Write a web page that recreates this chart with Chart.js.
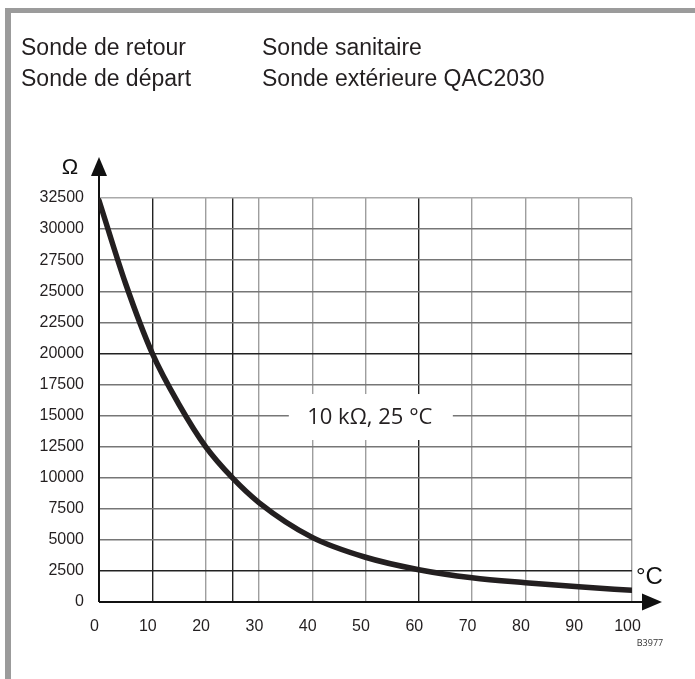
<!DOCTYPE html>
<html>
<head>
<meta charset="utf-8">
<script src="https://cdn.jsdelivr.net/npm/chart.js@4/dist/chart.umd.min.js"></script>
<style>
  html, body { margin: 0; padding: 0; background: #fff; }
  #wrap { width: 695px; height: 679px; position: relative; }
</style>
</head>
<body>
<div id="wrap"><canvas id="c" width="695" height="679"></canvas></div>
<script>
// NTC sensor characteristic: resistance (Ω) versus temperature (°C)
const temperatures = [0, 5, 10, 15, 20, 25, 30, 40, 50, 60, 70, 80, 90, 100];
const resistances  = [32300, 25600, 20000, 15900, 12500, 10000, 8000, 5200, 3600, 2600, 1950, 1550, 1220, 940];

// Axis ticks
const xTicks = [0, 10, 20, 25, 30, 40, 50, 60, 70, 80, 90, 100];
const xLabeled = [0, 10, 20, 30, 40, 50, 60, 70, 80, 90, 100];
const yTicks = [0, 2500, 5000, 7500, 10000, 12500, 15000, 17500, 20000, 22500, 25000, 27500, 30000, 32500];

// Heavier reference lines
const xStrong = [10, 25, 60];
const yStrong = [2500, 20000];

const headerLeft  = ['Sonde de retour', 'Sonde de départ'];
const headerRight = ['Sonde sanitaire', 'Sonde extérieure QAC2030'];
const curveLabel  = '10 kΩ, 25 °C';

const TXT = '#231f20';

const decorations = {
  id: 'decorations',
  beforeDraw(chart) {
    const ctx = chart.ctx;
    ctx.save();
    ctx.fillStyle = '#fff';
    ctx.fillRect(0, 0, chart.width, chart.height);
    // frame (top and left)
    ctx.fillStyle = '#9b9b9b';
    ctx.fillRect(5, 8, chart.width - 5, 5);
    ctx.fillRect(5, 8, 6, chart.height - 8);
    // header
    ctx.fillStyle = TXT;
    ctx.font = '23px "Liberation Sans", Arial, sans-serif';
    ctx.textBaseline = 'alphabetic';
    ctx.textAlign = 'left';
    ctx.fillText(headerLeft[0], 21, 55);
    ctx.fillText(headerLeft[1], 21, 86);
    ctx.fillText(headerRight[0], 262, 55);
    ctx.fillText(headerRight[1], 262, 86);
    ctx.restore();
  },
  beforeDatasetsDraw(chart) {
    const ctx = chart.ctx;
    const xs = chart.scales.x, ys = chart.scales.y;
    const x0 = xs.getPixelForValue(0);
    const y0 = ys.getPixelForValue(0);
    const top = ys.getPixelForValue(32500);
    ctx.save();
    // label box interrupting the grid
    const cx = xs.getPixelForValue(51);
    const cy = ys.getPixelForValue(14800);
    ctx.fillStyle = '#fff';
    ctx.fillRect(cx - 82, cy - 24, 164, 46);
    ctx.fillStyle = TXT;
    ctx.font = '22px "Open Sans", "Noto Sans", sans-serif';
    ctx.textAlign = 'center';
    ctx.textBaseline = 'middle';
    ctx.fillText(curveLabel, cx - 1, cy);

    // axes with arrows
    ctx.strokeStyle = '#111';
    ctx.fillStyle = '#111';
    ctx.lineWidth = 2;
    ctx.beginPath();
    ctx.moveTo(x0, y0);
    ctx.lineTo(x0, top - 28);
    ctx.moveTo(x0, y0);
    ctx.lineTo(xs.right + 15, y0);
    ctx.stroke();
    ctx.beginPath();
    ctx.moveTo(x0, top - 41);
    ctx.lineTo(x0 - 8, top - 22);
    ctx.lineTo(x0 + 8, top - 22);
    ctx.closePath();
    ctx.fill();
    ctx.beginPath();
    ctx.moveTo(xs.right + 30, y0);
    ctx.lineTo(xs.right + 10, y0 - 8.5);
    ctx.lineTo(xs.right + 10, y0 + 8.5);
    ctx.closePath();
    ctx.fill();

    // axis units
    ctx.font = '22px "Liberation Sans", Arial, sans-serif';
    ctx.textAlign = 'center';
    ctx.textBaseline = 'middle';
    ctx.fillText('Ω', 70, top - 30);
    ctx.font = '24px "Liberation Sans", Arial, sans-serif';
    ctx.textAlign = 'left';
    ctx.fillText('°C', xs.right + 4, y0 - 25);

    // drawing reference
    ctx.font = '9px "Open Sans", "Noto Sans", sans-serif';
    ctx.textAlign = 'center';
    ctx.fillStyle = '#333';
    ctx.fillText('B3977', 650, 643);
    ctx.restore();
  }
};

new Chart(document.getElementById('c'), {
  type: 'line',
  data: {
    datasets: [{
      data: temperatures.map((t, i) => ({ x: t, y: resistances[i] })),
      borderColor: '#231f20',
      borderWidth: 5.5,
      borderCapStyle: 'round',
      borderJoinStyle: 'round',
      pointRadius: 0,
      cubicInterpolationMode: 'monotone',
      fill: false
    }]
  },
  options: {
    responsive: false,
    animation: false,
    events: [],
    layout: { padding: { left: 0, top: 198, right: 63, bottom: 0 } },
    plugins: { legend: { display: false }, tooltip: { enabled: false } },
    scales: {
      x: {
        type: 'linear',
        min: 0, max: 100,
        afterFit(scale) { scale.height = 77; },
        afterBuildTicks(scale) { scale.ticks = xTicks.map(v => ({ value: v })); },
        border: { display: false },
        grid: {
          drawTicks: false,
          lineWidth: 1.4,
          color: ctx => {
            const v = ctx.tick.value;
            if (v === 0) return 'rgba(0,0,0,0)';
            if (xStrong.includes(v)) return '#222';
            return '#9e9e9e';
          }
        },
        ticks: {
          autoSkip: false,
          maxRotation: 0,
          padding: 15,
          labelOffset: -4.5,
          color: TXT,
          font: { family: '"Liberation Sans", Arial, sans-serif', size: 16 },
          callback: v => (xLabeled.includes(v) ? String(v) : '')
        }
      },
      y: {
        type: 'linear',
        min: 0, max: 32500,
        afterFit(scale) { scale.width = 99; },
        afterBuildTicks(scale) { scale.ticks = yTicks.map(v => ({ value: v })); },
        border: { display: false },
        grid: {
          drawTicks: false,
          lineWidth: 1.4,
          color: ctx => {
            const v = ctx.tick.value;
            if (v === 0) return 'rgba(0,0,0,0)';
            if (yStrong.includes(v)) return '#222';
            if (v === 32500) return '#aaa';
            return '#767676';
          }
        },
        ticks: {
          autoSkip: false,
          padding: 15,
          color: TXT,
          font: { family: '"Liberation Sans", Arial, sans-serif', size: 16 },
          callback: v => String(v)
        }
      }
    }
  },
  plugins: [decorations]
});
</script>
</body>
</html>
